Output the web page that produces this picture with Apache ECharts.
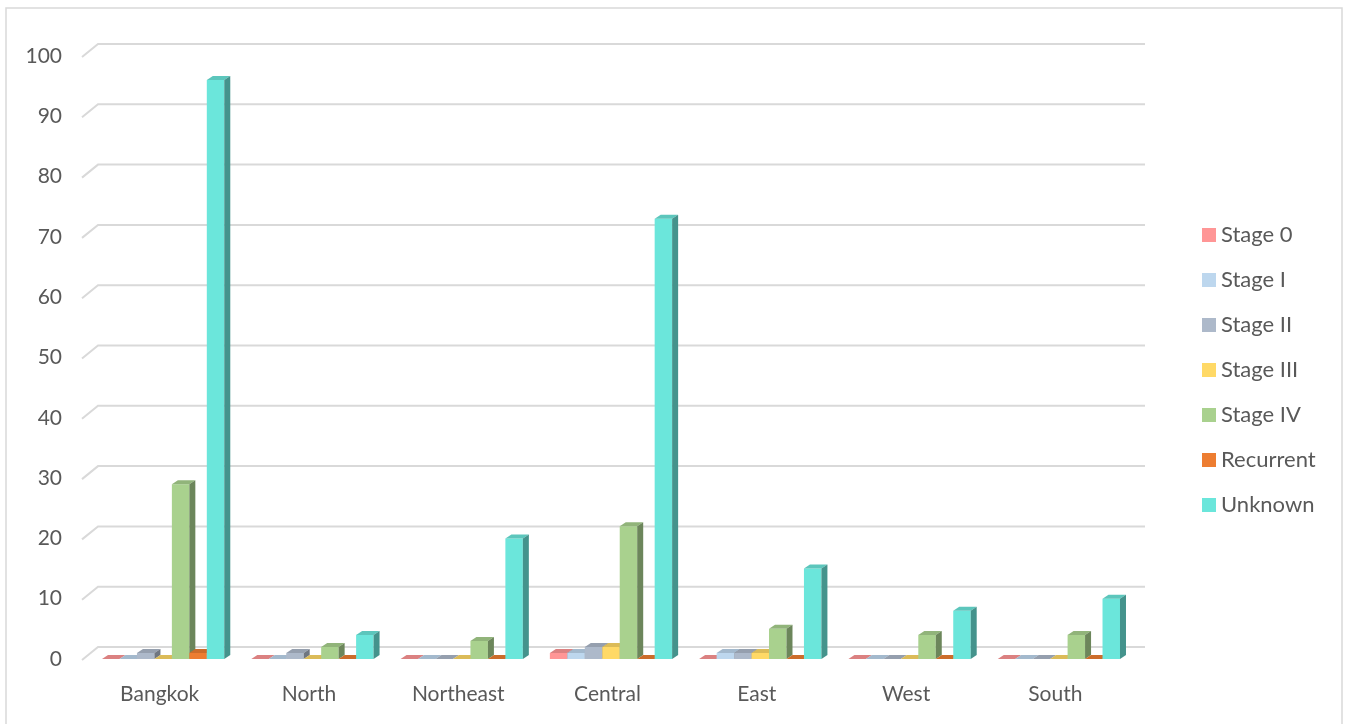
<!DOCTYPE html>
<html>
<head>
<meta charset="utf-8">
<script src="https://cdn.jsdelivr.net/npm/echarts@6/dist/echarts.min.js"></script>
<style>
  html, body { margin: 0; padding: 0; background: #fff; }
  #main { width: 1348px; height: 724px; }
</style>
</head>
<body>
<div id="main"></div>
<script>
// regions on the x axis
const regions = ['Bangkok', 'North', 'Northeast', 'Central', 'East', 'West', 'South'];
// one array per stage, same order as regions
const stage0    = [0, 0, 0, 1, 0, 0, 0];
const stage1    = [0, 0, 0, 1, 1, 0, 0];
const stage2    = [1, 1, 0, 2, 1, 0, 0];
const stage3    = [0, 0, 0, 2, 1, 0, 0];
const stage4    = [29, 2, 3, 22, 5, 4, 4];
const recurrent = [1, 0, 0, 0, 0, 0, 0];
const unknown   = [96, 4, 20, 73, 15, 8, 10];
const yTicks = [0, 10, 20, 30, 40, 50, 60, 70, 80, 90, 100];

const seriesNames = ['Stage 0', 'Stage I', 'Stage II', 'Stage III', 'Stage IV', 'Recurrent', 'Unknown'];
const seriesData = [stage0, stage1, stage2, stage3, stage4, recurrent, unknown];
const colors = ['#FF9696', '#BDD7EE', '#ADB9CA', '#FFD966', '#A9D18E', '#ED7D31', '#6BE6DB'];

// depth of the fake 3d boxes
const DX = 6, DY = 4;

function shade(hex, f) {
    let n = parseInt(hex.slice(1), 16);
    let r = Math.round(((n >> 16) & 255) * f);
    let g = Math.round(((n >> 8) & 255) * f);
    let b = Math.round((n & 255) * f);
    return 'rgb(' + r + ',' + g + ',' + b + ')';
}

function barRenderer(si) {
    return function (params, api) {
        let cat = api.value(0);
        let val = api.value(1);
        let top = api.coord([cat, val]);
        let base = api.coord([cat, 0]);
        let band = api.size([1, 0])[0];
        let bw = band * 0.117;
        let x = top[0] - 3.5 * bw + 3.5 + si * bw;
        let yv = top[1], y0 = base[1];
        let c = colors[si];
        return {
            type: 'group',
            children: [
                { type: 'rect', shape: { x: x, y: yv, width: bw, height: y0 - yv },
                  style: { fill: c } },
                { type: 'polygon', shape: { points: [[x, yv], [x + DX, yv - DY], [x + bw + DX, yv - DY], [x + bw, yv]] },
                  style: { fill: shade(c, 0.86) } },
                { type: 'polygon', shape: { points: [[x + bw, yv], [x + bw + DX, yv - DY], [x + bw + DX, y0 - DY], [x + bw, y0]] },
                  style: { fill: shade(c, 0.64) } }
            ]
        };
    };
}

// gridlines on the back wall, with the slanted lead-in on the left
function gridRenderer(params, api) {
    let cs = params.coordSys;
    let y = api.coord([0, api.value(1)])[1];
    return {
        type: 'polyline',
        shape: { points: [[cs.x - 3, y + 1], [cs.x + 13, y - 12], [cs.x + cs.width + 15, y - 12]] },
        style: { stroke: '#D9D9D9', lineWidth: 2, fill: null }
    };
}

let series = [{
    name: 'grid',
    type: 'custom',
    renderItem: gridRenderer,
    data: yTicks.map(v => [0, v]),
    silent: true,
    z: 1
}];
seriesNames.forEach((name, i) => {
    series.push({
        name: name,
        type: 'custom',
        renderItem: barRenderer(i),
        itemStyle: { color: colors[i] },
        data: seriesData[i].map((v, k) => [k, v]),
        z: 2 + i
    });
});

const font = 'Lato, "Open Sans", sans-serif';

let myChart = echarts.init(document.getElementById('main'));
myChart.setOption({
    animation: false,
    textStyle: { fontFamily: font },
    graphic: [{
        type: 'rect',
        shape: { x: 6, y: 8, width: 1336, height: 730 },
        style: { fill: null, stroke: '#D9D9D9', lineWidth: 1.5 },
        silent: true
    }],
    grid: { left: 85, right: 218, top: 56, bottom: 65 },
    legend: {
        data: seriesNames,
        orient: 'vertical',
        left: 1197,
        top: 219,
        icon: 'rect',
        itemWidth: 14,
        itemHeight: 14,
        itemGap: 23,
        textStyle: { fontSize: 22, color: '#595959', fontFamily: font }
    },
    xAxis: {
        type: 'category',
        data: regions,
        axisLine: { show: false },
        axisTick: { show: false },
        axisLabel: { fontSize: 21, color: '#595959', margin: 25 }
    },
    yAxis: {
        type: 'value',
        min: 0,
        max: 100,
        interval: 10,
        splitLine: { show: false },
        axisLine: { show: false },
        axisTick: { show: false },
        axisLabel: { fontSize: 21, color: '#595959', margin: 23, padding: [6, 0, 0, 0] }
    },
    series: series
});
</script>
</body>
</html>
